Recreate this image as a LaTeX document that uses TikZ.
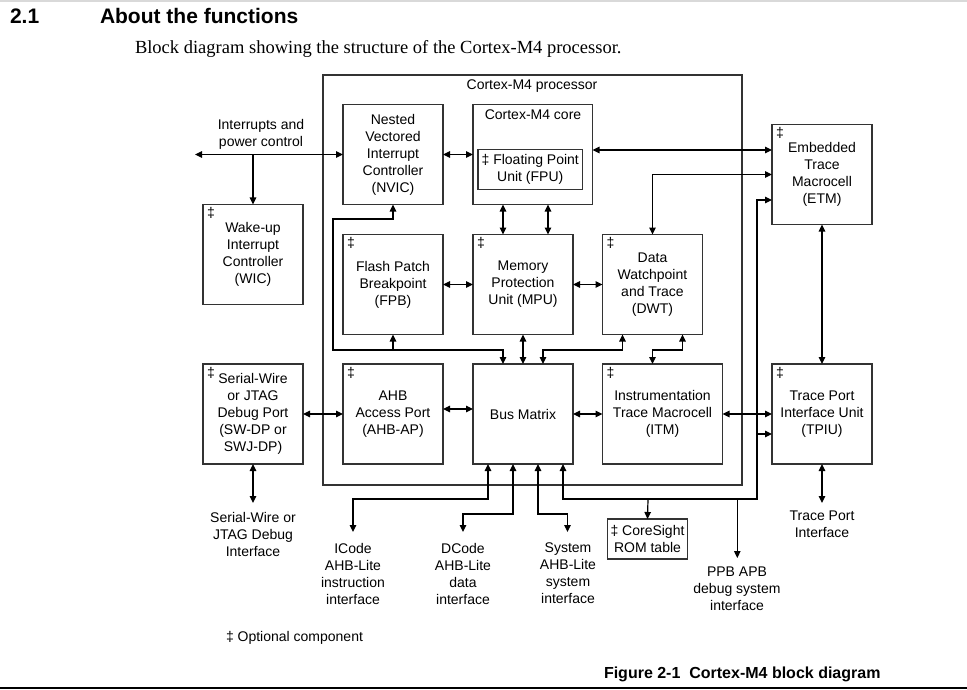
\documentclass[tikz,border=0pt]{standalone}
\usepackage{fontspec}
\setmainfont{Liberation Sans}
\newfontfamily\serifface{Liberation Serif}
\usetikzlibrary{arrows.meta}
\begin{document}
\begin{tikzpicture}[x=1pt,y=-1pt,
  >={Triangle[length=7pt,width=6.5pt]},
  every node/.style={inner sep=0pt, outer sep=0pt},
  lbl/.style={align=center, font=\fontsize{14}{17}\selectfont},
  blk/.style={draw=black!80, line width=1.3pt, minimum width=100pt, minimum height=100pt, align=center, font=\fontsize{14}{17}\selectfont},
  opt/.style={label={[anchor=north west, xshift=4pt, yshift=-3pt, font=\fontsize{14}{17}\selectfont]north west:‡}},
  conn/.style={line width=1.2pt, draw=black},
]
\fill[white] (0,0) rectangle (967,690);
\useasboundingbox (0,0) rectangle (967,690);

% page rules
\draw[gray!30, line width=2pt] (0,1) -- (967,1);
\draw[black, line width=2pt] (0,688) -- (967,688);

% header
\node[anchor=base west, font=\fontsize{21}{25}\selectfont\bfseries] (secnum) at (10,24) {2.1};
\node[anchor=base west, font=\fontsize{21}{25}\selectfont\bfseries] (sectitle) at (100,24) {About the functions};
\node[anchor=west, font=\fontsize{18.5}{22}\selectfont\serifface] (subtitle) at (135,49) {Block diagram showing the structure of the Cortex-M4 processor.};

% processor container
\node[draw=black!80, line width=1.3pt, minimum width=419pt, minimum height=410pt] (proc) at (532.5,280) {};
\node[lbl] (proclbl) at (532,86) {Cortex-M4 processor};

% blocks
\node[blk] (nvic) at (393,154.5) {Nested\\Vectored\\Interrupt\\Controller\\(NVIC)};
\node[blk, minimum width=119.5pt] (core) at (532.75,154.5) {};
\node[lbl] (coretitle) at (533,115) {Cortex-M4 core};
\node[blk, minimum width=104.5pt, minimum height=40pt] (fpu) at (530.25,169.5) {‡ Floating Point\\Unit (FPU)};
\node[blk, opt] (etm) at (822,174.5) {Embedded\\Trace\\Macrocell\\(ETM)};
\node[blk, opt] (wic) at (253,254.5) {Wake-up\\Interrupt\\Controller\\(WIC)};
\node[blk, opt] (fpb) at (393,284.5) {Flash Patch\\Breakpoint\\(FPB)};
\node[blk, opt] (mpu) at (523,284.5) {Memory\\Protection\\Unit (MPU)};
\node[blk, opt] (dwt) at (652.5,284.5) {Data\\Watchpoint\\and Trace\\(DWT)};
\node[blk, opt] (swj) at (253,414) {Serial-Wire\\or JTAG\\Debug Port\\(SW-DP or\\SWJ-DP)};
\node[blk, opt] (ahb) at (393,414) {AHB\\Access Port\\(AHB-AP)};
\node[blk] (bus) at (523,414) {Bus Matrix};
\node[blk, opt, minimum width=120pt] (itm) at (662.5,414) {Instrumentation\\Trace Macrocell\\(ITM)};
\node[blk, opt] (tpiu) at (822,414) {Trace Port\\Interface Unit\\(TPIU)};
\node[blk, minimum width=80pt, minimum height=40pt] (rom) at (647.5,539) {‡ CoreSight\\ROM table};

% external labels
\node[lbl] (intlbl) at (261,134.5) {Interrupts and\\power control};
\node[lbl] (swlbl) at (253,534.5) {Serial-Wire or\\JTAG Debug\\Interface};
\node[lbl] (iclbl) at (353,573.5) {ICode\\AHB-Lite\\instruction\\interface};
\node[lbl] (dclbl) at (463,573.5) {DCode\\AHB-Lite\\data\\interface};
\node[lbl] (sylbl) at (568,573.5) {System\\AHB-Lite\\system\\interface};
\node[lbl] (ppblbl) at (737,589) {PPB APB\\debug system\\interface};
\node[lbl] (tplbl) at (822,524) {Trace Port\\Interface};
\node[anchor=west, font=\fontsize{14}{17}\selectfont] (optnote) at (226,638) {‡ Optional component};
\node[anchor=west, font=\fontsize{16}{19}\selectfont\bfseries] (caption) at (604,674) {Figure 2-1\ \ Cortex-M4 block diagram};

% coordinates
\coordinate (intl) at (195,154.5);
\coordinate (intb) at (253,154.5);
\coordinate (lp1) at (333,219);
\coordinate (lp2) at (333,350);
\coordinate (tpo) at (822,503);
\coordinate (swo) at (253,503);
\coordinate (icb) at (353,499);
\coordinate (ice) at (353,532);
\coordinate (dcb) at (463,514);
\coordinate (dce) at (463,532);
\coordinate (syb) at (567.5,514);
\coordinate (sye) at (567.5,532);
\coordinate (v1) at (757,499);
\coordinate (v2) at (757,200);
\coordinate (v3) at (757,434);
\coordinate (v4) at (648,499);
\coordinate (v5) at (737.3,499);
\coordinate (v6) at (737.3,558);

% connectors
\draw[conn,<->] (intl) -- (nvic.west);
\draw[conn,->] (intb) -- (wic.north);
\draw[conn,<->] (nvic.east) -- (core.west);
\draw[conn,<->] ([yshift=4.5pt]core.east) coordinate (c1) -- (c1 -| etm.west);
\draw[conn,<->] (dwt.north) |- (etm.west);
\draw[conn,<->] (etm.south) -- (tpiu.north);
\draw[conn,<->] (tpiu.south) -- (tpo);
\draw[conn,<->] ([xshift=-20pt]mpu.north) coordinate (m1) -- (m1 |- core.south);
\draw[conn,<->] ([xshift=25pt]mpu.north) coordinate (m2) -- (m2 |- core.south);
\draw[conn,<->] (fpb.east) -- (mpu.west);
\draw[conn,<->] (mpu.east) -- (dwt.west);
\draw[conn,<->] (mpu.south) -- (bus.north);
\draw[conn,<->] (nvic.south) |- (lp1) -- (lp2) -| ([xshift=-20pt]bus.north);
\draw[conn,->] (fpb.south |- lp2) -- (fpb.south);
\draw[conn,<->] ([xshift=20pt]bus.north) coordinate (b2) -- (b2 |- lp2) -| ([xshift=-30pt]dwt.south);
\draw[conn,<->] ([xshift=30pt]dwt.south) coordinate (d2) -- (d2 |- lp2) -| ([xshift=-10pt]itm.north);
\draw[conn,<->] (swj.east) -- (ahb.west);
\draw[conn,<->] ([yshift=5pt]ahb.east) coordinate (a1) -- (a1 -| bus.west);
\draw[conn,<->] (bus.east) -- (itm.west);
\draw[conn,<->] (itm.east) -- (tpiu.west);
\draw[conn,<->] (swj.south) -- (swo);
\draw[conn,<->] ([xshift=-35pt]bus.south) coordinate (b3) |- (icb) -- (ice);
\draw[conn,<->] ([xshift=-10pt]bus.south) coordinate (b4) |- (dcb) -- (dce);
\draw[conn,<->] ([xshift=15pt]bus.south) coordinate (b5) |- (syb) -- (sye);
\draw[conn,<->] ([xshift=40pt]bus.south) coordinate (b6) |- (v1) -- (v2) -- (v2 -| etm.west);
\draw[conn,->] (v3) -- (v3 -| tpiu.west);
\draw[conn,->] (v4) -- (rom.north);
\draw[conn,->] (v5) -- (v6);
\end{tikzpicture}
\end{document}
